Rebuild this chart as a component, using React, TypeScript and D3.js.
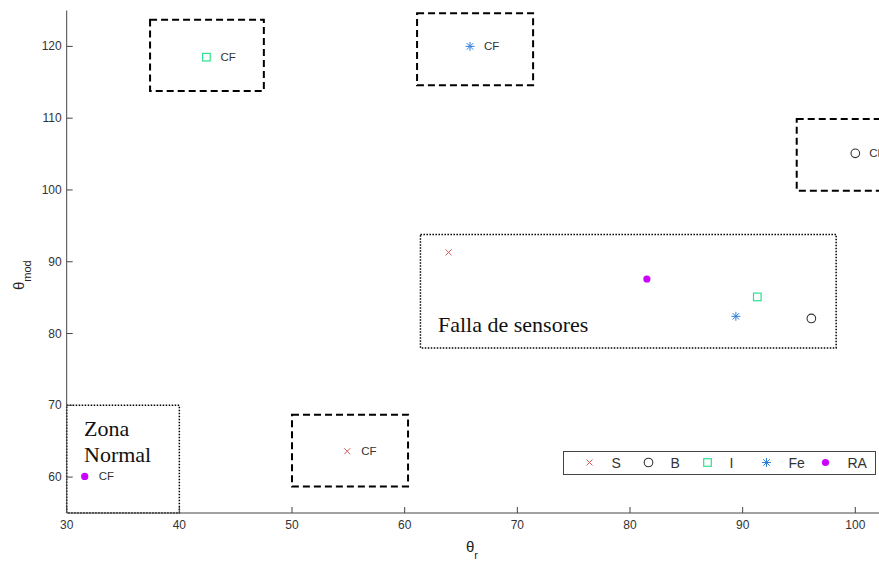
import React from "react";
import * as d3 from "d3";

// Fault classes (legend order)
const seriesNames = ["S", "B", "I", "Fe", "RA"];
const seriesColors = ["#d45a5a", "#333333", "#2ee08f", "#2f7fdc", "#cc00ff"];
const seriesShapes = ["times", "circle", "square", "asterisk", "dot"];

// Points labelled "CF"
const cfX = [54.9, 100.0, 42.4, 65.8, 31.6];
const cfY = [63.6, 105.1, 118.5, 120.0, 60.1];

// Points inside the sensor-fault zone
const sensorX = [63.9, 96.1, 91.3, 89.4, 81.5];
const sensorY = [91.3, 82.1, 85.1, 82.4, 87.6];

// Dashed boxes around the CF points of S, B, I, Fe: [x0, x1, y0, y1]
const cfBoxes = [
  [50.0, 60.3, 58.7, 68.7],
  [94.8, 105.2, 99.9, 109.9],
  [37.4, 47.5, 113.8, 123.7],
  [61.1, 71.4, 114.6, 124.6],
];

// Dotted zones
const normalZone = [30, 40, 55, 70];
const sensorZone = [61.4, 98.3, 78.0, 93.8];

const xTicks = [30, 40, 50, 60, 70, 80, 90, 100];
const yTicks = [60, 70, 80, 90, 100, 110, 120];

const W = 879;
const H = 562;

const x = d3.scaleLinear().domain([30, 100]).range([66.7, 855.3]);
const y = d3.scaleLinear().domain([55, 125]).range([513, 10.5]);

const SANS = "'Liberation Sans', Arial, sans-serif";
const SERIF = "'Liberation Serif', 'Times New Roman', serif";

function Marker({ shape, color, cx, cy }: { shape: string; color: string; cx: number; cy: number }) {
  if (shape === "times") {
    const r = 3;
    return (
      <path
        d={`M${cx - r},${cy - r}L${cx + r},${cy + r}M${cx - r},${cy + r}L${cx + r},${cy - r}`}
        stroke={color}
        strokeWidth={1}
        fill="none"
      />
    );
  }
  if (shape === "circle") {
    return <circle cx={cx} cy={cy} r={4.3} fill="none" stroke={color} strokeWidth={1.1} />;
  }
  if (shape === "square") {
    return <rect x={cx - 3.8} y={cy - 3.8} width={7.6} height={7.6} fill="none" stroke={color} strokeWidth={1.2} />;
  }
  if (shape === "asterisk") {
    const r = 4.5;
    const d = r * 0.72;
    return (
      <path
        d={`M${cx},${cy - r}L${cx},${cy + r}M${cx - r},${cy}L${cx + r},${cy}M${cx - d},${cy - d}L${cx + d},${cy + d}M${cx - d},${cy + d}L${cx + d},${cy - d}`}
        stroke={color}
        strokeWidth={1}
        fill="none"
      />
    );
  }
  return <circle cx={cx} cy={cy} r={3.6} fill={color} />;
}

function boxRect(b: number[], dash: string, sw: number, key: string) {
  const x0 = x(b[0]);
  const x1 = x(b[1]);
  const y0 = y(b[3]);
  const y1 = y(b[2]);
  return (
    <rect
      key={key}
      x={x0}
      y={y0}
      width={x1 - x0}
      height={y1 - y0}
      fill="none"
      stroke="#000"
      strokeWidth={sw}
      strokeDasharray={dash}
    />
  );
}

export default function App() {
  const xEnd = W + 5;
  const legendX = 563.5;
  const legendY = 451.5;
  const legendW = 312;
  const legendH = 23;
  const legendStep = 59;

  return (
    <svg
      width={W}
      height={H}
      style={{ position: "absolute", left: 0, top: 0, background: "#fff" }}
      fontFamily={SANS}
    >
      <rect x={0} y={0} width={W} height={H} fill="#fff" />

      {/* zones */}
      {boxRect(normalZone, "1.5,1.5", 1.5, "normal")}
      {boxRect(sensorZone, "1.5,1.5", 1.5, "sensor")}
      {cfBoxes.map((b, i) => boxRect(b, "7,4", 2, "cf" + i))}

      {/* axes */}
      <line x1={x(30)} x2={xEnd} y1={y(55)} y2={y(55)} stroke="#444" strokeWidth={1} />
      <line x1={x(30)} x2={x(30)} y1={y(55)} y2={y(125)} stroke="#444" strokeWidth={1} />
      {xTicks.map((t) => (
        <g key={"xt" + t}>
          <line x1={x(t)} x2={x(t)} y1={y(55)} y2={y(55) - 6} stroke="#444" />
          <text x={x(t)} y={y(55) + 16} textAnchor="middle" fontSize={12} fill="#333">
            {t}
          </text>
        </g>
      ))}
      {yTicks.map((t) => (
        <g key={"yt" + t}>
          <line x1={x(30)} x2={x(30) + 6} y1={y(t)} y2={y(t)} stroke="#444" />
          <text x={x(30) - 5} y={y(t) + 4} textAnchor="end" fontSize={12} fill="#333">
            {t}
          </text>
        </g>
      ))}

      {/* axis labels */}
      <text x={466} y={552} fontSize={15} fill="#222">
        θ<tspan dy={7} fontSize={11}>r</tspan>
      </text>
      <text transform="translate(24,290) rotate(-90)" fontSize={15} fill="#222">
        θ<tspan dy={7} fontSize={11}>mod</tspan>
      </text>

      {/* CF points */}
      {seriesNames.map((s, i) => (
        <g key={"cf" + s}>
          <Marker shape={seriesShapes[i]} color={seriesColors[i]} cx={x(cfX[i])} cy={y(cfY[i])} />
          <text x={x(cfX[i]) + 14} y={y(cfY[i]) + 4} fontSize={11.5} fill="#333">
            CF
          </text>
        </g>
      ))}

      {/* sensor fault points */}
      {seriesNames.map((s, i) => (
        <Marker key={"sf" + s} shape={seriesShapes[i]} color={seriesColors[i]} cx={x(sensorX[i])} cy={y(sensorY[i])} />
      ))}

      {/* zone captions */}
      <text x={438} y={332} fontFamily={SERIF} fontSize={22} fill="#111">
        Falla de sensores
      </text>
      <text x={84} y={436} fontFamily={SERIF} fontSize={22} fill="#111">
        Zona
      </text>
      <text x={84} y={462} fontFamily={SERIF} fontSize={22} fill="#111">
        Normal
      </text>

      {/* legend */}
      <rect x={legendX} y={legendY} width={legendW} height={legendH} fill="#fff" stroke="#444" strokeWidth={1} />
      {seriesNames.map((s, i) => {
        const mx = legendX + 26 + i * legendStep;
        const my = legendY + 11;
        return (
          <g key={"lg" + s}>
            <Marker shape={seriesShapes[i]} color={seriesColors[i]} cx={mx} cy={my} />
            <text x={mx + 22} y={my + 5} fontSize={14} fill="#333">
              {s}
            </text>
          </g>
        );
      })}
    </svg>
  );
}
